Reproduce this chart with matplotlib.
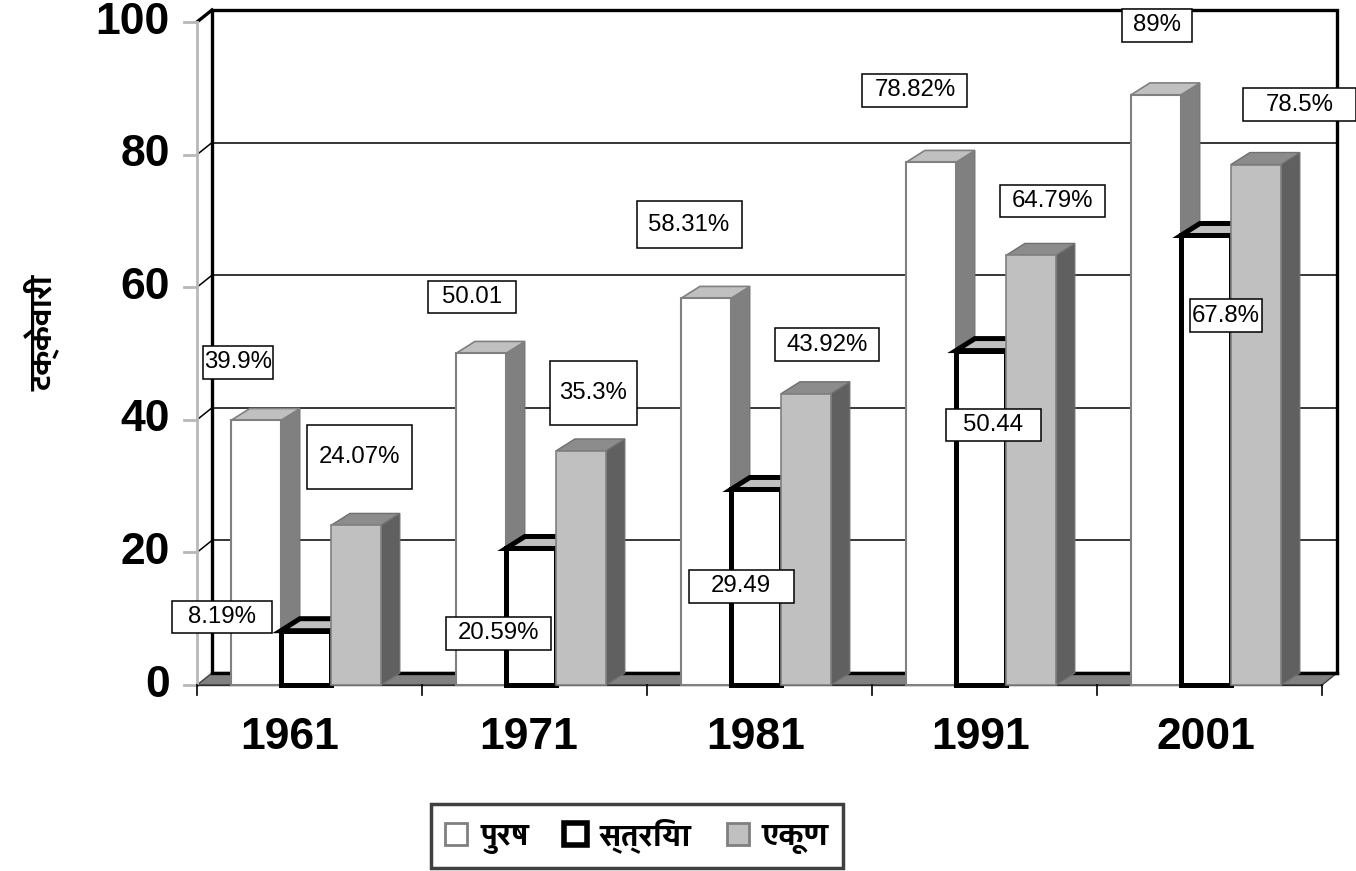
import matplotlib
matplotlib.use('Agg')
import matplotlib.pyplot as plt
from matplotlib.patches import Rectangle, Polygon
from matplotlib import font_manager

# Data
years = ['1961', '1971', '1981', '1991', '2001']
male = [39.9, 50.01, 58.31, 78.82, 89.0]
female = [8.19, 20.59, 29.49, 50.44, 67.8]
total = [24.07, 35.3, 43.92, 64.79, 78.5]
male_labels = ['39.9%', '50.01', '58.31%', '78.82%', '89%']
female_labels = ['8.19%', '20.59%', '29.49', '50.44', '67.8%']
total_labels = ['24.07%', '35.3%', '43.92%', '64.79%', '78.5%']
series_names = ['पुरष', 'स्त्रिया', 'एकूण']
y_title = 'टक्केवारी'
y_ticks = [0, 20, 40, 60, 80, 100]

# label placement (category units, value units) and box size in px
male_lab_x = [-0.318, 0.722, 1.687, 2.691, 3.767]
male_lab_y = [48.7, 58.5, 69.4, 89.7, 99.5]
female_lab_x = [-0.389, 0.838, 1.918, 3.038, 4.073]
female_lab_y = [10.3, 7.8, 14.9, 39.2, 55.7]
total_lab_x = [0.224, 1.260, 2.300, 3.304, 4.402]
total_lab_y = [34.4, 44.0, 51.3, 73.0, 87.5]
male_box = [(70, 33), (88, 32), (105, 47), (105, 33), (70, 33)]
female_box = [(100, 32), (105, 33), (105, 33), (95, 32), (72, 33)]
total_box = [(105, 64), (87, 64), (104, 33), (105, 32), (113, 33)]
year_dx_px = [-16, -2, 0, 0, 0]


def find_devanagari_font():
    try:
        from fontTools.ttLib import TTFont
    except ImportError:
        return None
    best = None
    for f in font_manager.fontManager.ttflist:
        try:
            tt = TTFont(f.fname, fontNumber=0, lazy=True)
            cmap = tt.getBestCmap()
        except Exception:
            continue
        if cmap and 0x092A in cmap:
            if f.weight in ('bold', 700) or best is None:
                best = f.name
    return best


deva = find_devanagari_font()
deva_family = ([deva] if deva else []) + ['DejaVu Sans']
num_family = ['Liberation Sans', 'DejaVu Sans']

W, H = 1356, 871
fig = plt.figure(figsize=(W / 100, H / 100), dpi=100)
# front plane: value 0 at y=685px, 100 at y=22px; categories between x=197..1322px
ax = fig.add_axes([197 / W, (H - 685) / H, 1125 / W, 663 / H])
ax.set_xlim(-0.5, 4.5)
ax.set_ylim(0, 100)
ax.axis('off')

sx = 1125 / 5.0   # px per category unit
sy = 663 / 100.0  # px per value unit

# depth offsets
wdx, wdy = 15 / sx, 12 / sy     # walls/floor
bdx, bdy = 19 / sx, 12 / sy     # bars
bw = 50 / sx

x0, x1 = -0.5, 4.5

# floor
ax.add_patch(Polygon([(x0, 0), (x1, 0), (x1 + wdx, wdy), (x0 + wdx, wdy)],
                     closed=True, facecolor='#808080', edgecolor='#404040',
                     lw=1, clip_on=False, zorder=1))
# back wall frame
ax.add_patch(Rectangle((x0 + wdx, wdy), x1 - x0, 100, facecolor='white',
                       edgecolor='black', lw=2.4, clip_on=False, zorder=0.5))
ax.plot([x0 + wdx, x1 + wdx], [wdy, wdy], color='black', lw=2.4,
        clip_on=False, zorder=1.1)
ax.plot([x0, x0 + wdx], [100, 100 + wdy], color='black', lw=2.4,
        clip_on=False, zorder=1.1)
for v in y_ticks[1:-1]:
    ax.plot([x0 + wdx, x1 + wdx], [v + wdy, v + wdy], color='black', lw=1.1,
            clip_on=False, zorder=1)
    ax.plot([x0, x0 + wdx], [v, v + wdy], color='black', lw=1.1,
            clip_on=False, zorder=1)

# front value axis
ax.plot([x0, x0], [0, 100], color='#b8b8b8', lw=2, clip_on=False, zorder=1.2)
for v in y_ticks:
    ax.plot([x0 - 13 / sx, x0], [v, v], color='#b8b8b8', lw=2,
            clip_on=False, zorder=1.2)
    ax.text(x0 - 27 / sx, v, str(v), ha='right', va='center', fontsize=32,
            fontweight='bold', family=num_family)

# category axis
ax.plot([x0, x1], [0, 0], color='#303030', lw=1, clip_on=False, zorder=1.2)
for k in range(len(years) + 1):
    ax.plot([x0 + k, x0 + k], [0, -10 / sy], color='black', lw=1.2,
            clip_on=False, zorder=1.2)
for i, yr in enumerate(years):
    ax.text(i + (year_dx_px[i] - 4) / sx, -52 / sy, yr, ha='center', va='center',
            fontsize=32, fontweight='bold', family=num_family)

ax.text(x0 - 155 / sx, (685 - 333) / sy, y_title, rotation=90, ha='center',
        va='center', fontsize=23, fontweight='bold', family=deva_family)


def bar3d(xl, v, front, front_ec, front_lw, side, top, top_ec, top_lw):
    xr = xl + bw
    ax.add_patch(Polygon([(xr, 0), (xr + bdx, bdy), (xr + bdx, v + bdy), (xr, v)],
                         closed=True, facecolor=side, edgecolor='#707070',
                         lw=0.8, clip_on=False, zorder=2))
    ax.add_patch(Polygon([(xl, v), (xl + bdx, v + bdy), (xr + bdx, v + bdy), (xr, v)],
                         closed=True, facecolor=top, edgecolor=top_ec,
                         lw=top_lw, clip_on=False, zorder=2))
    ax.add_patch(Rectangle((xl, 0), bw, v, facecolor=front, edgecolor=front_ec,
                           lw=front_lw, clip_on=False, zorder=2))


for i in range(len(years)):
    c = i - 0.016
    bar3d(c - 1.5 * bw, male[i], 'white', '#808080', 1.5, '#808080', '#c0c0c0', '#808080', 1.2)
    bar3d(c - 0.5 * bw, female[i], 'white', 'black', 3.6, '#808080', '#c0c0c0', 'black', 3.6)
    bar3d(c + 0.5 * bw, total[i], '#c0c0c0', '#808080', 1.2, '#606060', '#8c8c8c', '#707070', 1)


def data_label(x, y, txt, box):
    w, h = box[0] / sx, box[1] / sy
    ax.add_patch(Rectangle((x - w / 2, y - h / 2), w, h, facecolor='white',
                           edgecolor='black', lw=1.1, clip_on=False, zorder=5))
    ax.text(x, y, txt, ha='center', va='center', fontsize=17.3,
            family=num_family, zorder=6)


for i in range(len(years)):
    data_label(male_lab_x[i], male_lab_y[i], male_labels[i], male_box[i])
    data_label(female_lab_x[i], female_lab_y[i], female_labels[i], female_box[i])
    data_label(total_lab_x[i], total_lab_y[i], total_labels[i], total_box[i])

# legend
handles = [
    Rectangle((0, 0), 1, 1, facecolor='white', edgecolor='#808080', lw=2),
    Rectangle((0, 0), 1, 1, facecolor='white', edgecolor='black', lw=4),
    Rectangle((0, 0), 1, 1, facecolor='#c0c0c0', edgecolor='#808080', lw=2),
]
leg = fig.legend(handles, series_names, loc='center',
                 bbox_to_anchor=(637 / W, 1 - 836 / H), ncol=3, frameon=True,
                 fancybox=False, edgecolor='#404040', framealpha=1,
                 prop=dict(family=deva_family, weight='bold', size=23),
                 handlelength=0.7, handleheight=0.7, handletextpad=0.4,
                 columnspacing=1.1, borderpad=0.45)
leg.get_frame().set_linewidth(2.5)

fig.savefig('out.png', dpi=100)
